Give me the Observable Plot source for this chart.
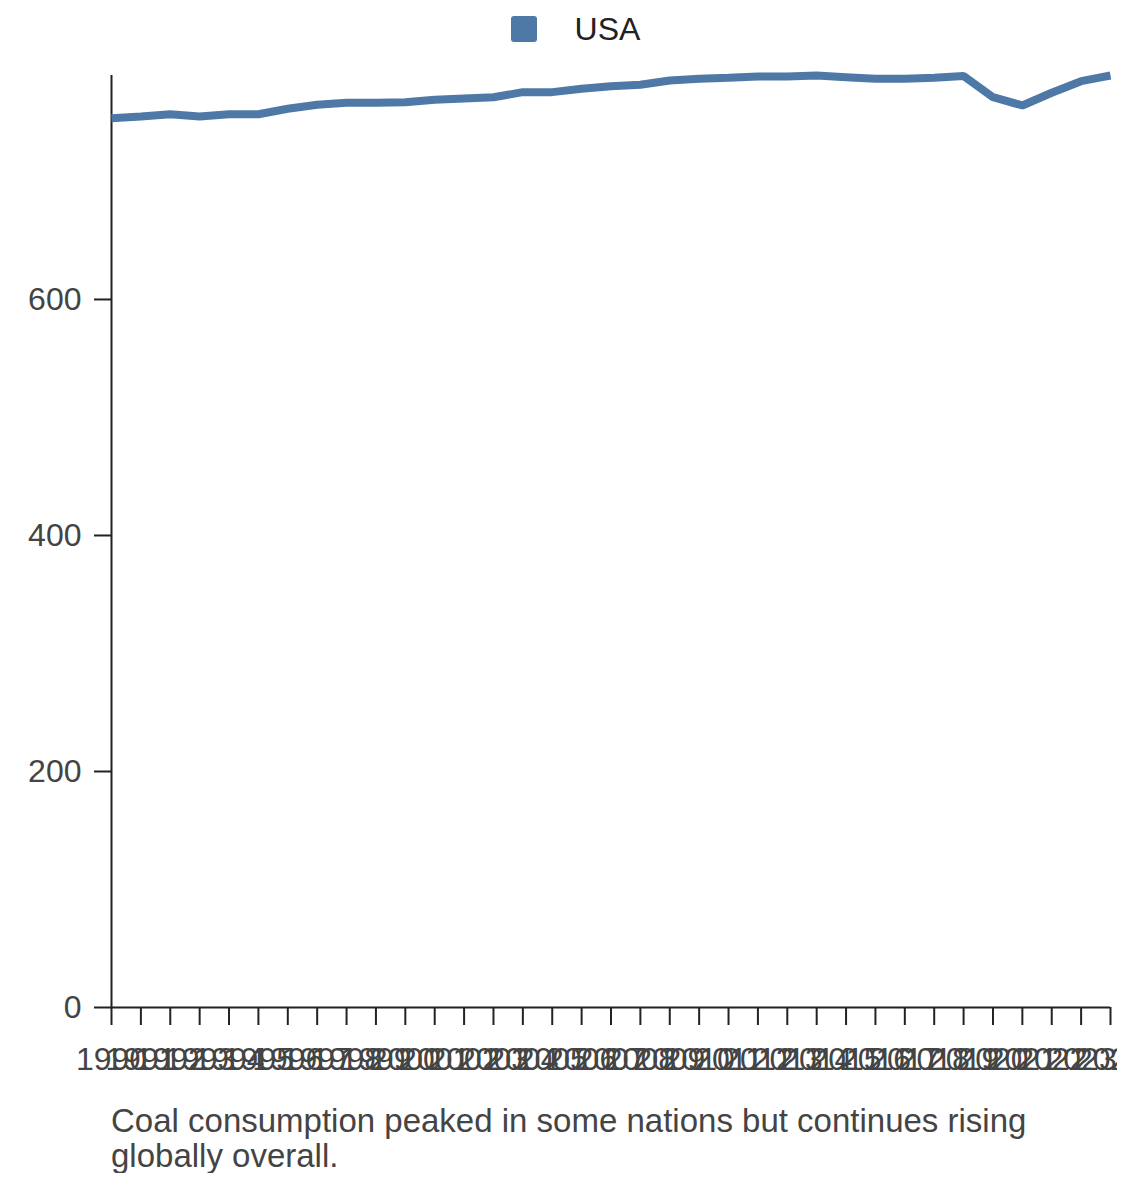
<!DOCTYPE html>
<html>
<head>
<meta charset="utf-8">
<script src="https://cdn.jsdelivr.net/npm/d3@7"></script>
<script src="https://cdn.jsdelivr.net/npm/@observablehq/plot@0.6"></script>
<style>
  html, body { margin: 0; padding: 0; background: #fff; }
  body { font-family: "Liberation Sans", Arial, Helvetica, sans-serif; width: 1140px; }
  #legend { height: 58px; display: flex; align-items: center; justify-content: center; padding-left: 11px; box-sizing: border-box; }
  #legend .sw { width: 26px; height: 26px; border-radius: 3px; background: #4e79a7; margin-right: 38px; }
  #legend .lb { font-size: 32px; color: #222; line-height: 1; }
  #chart svg { display: block; }
  #caption { margin-top: 16px; padding-left: 111px; width: 980px; font-size: 33px; line-height: 35px; color: #444; }
</style>
</head>
<body>
<div id="legend"><div class="sw"></div><div class="lb">USA</div></div>
<div id="chart"></div>
<div id="caption">Coal consumption peaked in some nations but continues rising globally overall.</div>
<script>
const seriesName = "USA";
const years = [1990,1991,1992,1993,1994,1995,1996,1997,1998,1999,2000,2001,2002,2003,2004,2005,2006,2007,2008,2009,2010,2011,2012,2013,2014,2015,2016,2017,2018,2019,2020,2021,2022,2023,2024];
const usaValues = [753.6,755,757,755,757,757,761.6,765,766.7,766.7,767.2,769.2,770.3,771.4,775.7,775.7,778.5,780.7,781.9,785.6,787,787.9,789,789,789.8,788.4,787,787,787.9,789.3,771.4,764.4,775.2,785,789.8];
const yTicks = [0, 200, 400, 600];

const data = years.map((y, i) => ({year: y, value: usaValues[i], series: seriesName}));

const chart = Plot.plot({
  width: 1117,
  height: 1029,
  marginLeft: 111,
  marginRight: 7,
  marginTop: 17,
  marginBottom: 80,
  style: {fontSize: "32px", fontFamily: "'Liberation Sans', Arial, Helvetica, sans-serif", background: "#fff", color: "#222"},
  x: {type: "linear", domain: [d3.min(years), d3.max(years)]},
  y: {domain: [0, d3.max(usaValues)]},
  marks: [
    Plot.axisX({ticks: years, tickSize: 18, tickPadding: 22, tickFormat: d => String(d), label: null, fill: "#444", stroke: "#222", strokeWidth: 2}),
    Plot.axisY({ticks: yTicks, tickSize: 17, tickPadding: 13, tickFormat: d => String(d), label: null, fill: "#444", stroke: "#222", strokeWidth: 2}),
    Plot.ruleX([d3.min(years)], {stroke: "#222", strokeWidth: 2}),
    Plot.ruleY([0], {stroke: "#222", strokeWidth: 2}),
    Plot.line(data, {x: "year", y: "value", stroke: "#4e79a7", strokeWidth: 8, strokeLinecap: "butt", strokeLinejoin: "miter"})
  ]
});
document.getElementById("chart").appendChild(chart);
</script>
</body>
</html>
